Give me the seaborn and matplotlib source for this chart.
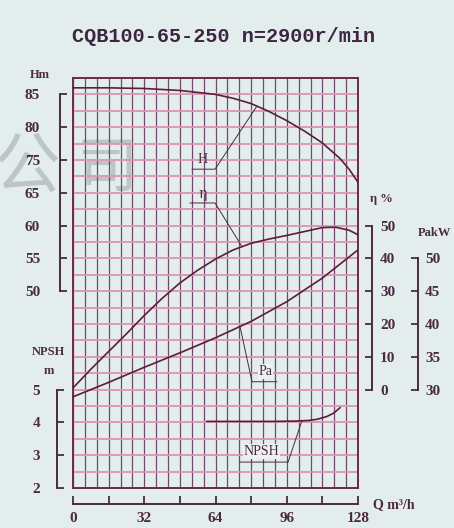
import numpy as np
import pandas as pd
import matplotlib
matplotlib.use("Agg")
import matplotlib.pyplot as plt
import seaborn as sns

# ---------------- data ----------------
title = "CQB100-65-250 n=2900r/min"

Q_H = [0, 16, 32, 48, 64, 72, 80, 88, 96, 104, 112, 120, 124, 128]
H = [86.0, 86.0, 85.9, 85.6, 85.0, 84.4, 83.6, 82.4, 81.0, 79.4, 77.6, 75.2, 73.6, 71.6]

Q_eta = [0, 8, 16, 24, 32, 40, 48, 56, 64, 72, 80, 88, 96, 104, 112, 118, 124, 128]
eta = [0.5, 6.2, 11.6, 17.0, 22.6, 27.8, 32.5, 36.4, 39.8, 42.6, 44.6, 45.9, 47.0, 48.2, 49.4, 49.5, 48.6, 47.2]

Q_Pa = [0, 16, 32, 48, 64, 80, 96, 112, 128]
Pa = [28.9, 31.1, 33.4, 35.6, 37.9, 40.4, 43.4, 47.0, 51.3]

Q_npsh = [60, 70, 80, 90, 100, 106, 110, 114, 117, 120]
npsh = [4.03, 4.03, 4.03, 4.03, 4.04, 4.06, 4.10, 4.18, 4.28, 4.45]

H_ticks = [85, 80, 75, 70, 65, 60, 55]
H_tick_labels = ["85", "80", "75", "65", "60", "55", "50"]
eta_ticks = [0, 10, 20, 30, 40, 50]
Pa_ticks = [30, 35, 40, 45, 50]
npsh_ticks = [2, 3, 4, 5]
Q_ticks = [0, 16, 32, 48, 64, 80, 96, 112, 128]
Q_tick_labels = ["0", "", "32", "", "64", "", "96", "", "128"]

# ---------------- style ----------------
sns.set_style("white")
BG = "#e3edec"
INK = "#4a2a42"
CURVE = "#5c1c3a"
VGRID = "#6e4a68"
HGRID = "#dc94b3"
SERIF = "Liberation Serif"

plt.rcParams["font.family"] = [SERIF, "DejaVu Sans"]

W, Hpx = 454, 528
fig = plt.figure(figsize=(W / 100, Hpx / 100), dpi=100, facecolor=BG)
rect = [73 / W, (Hpx - 488) / Hpx, 285 / W, 410 / Hpx]

# watermark
fig.text(27 / W, 1 - 168 / Hpx, "公", fontsize=48, color="#a3acab", alpha=0.6,
         ha="center", va="center", family=["Noto Sans CJK SC"], zorder=-5)
fig.text(107 / W, 1 - 170 / Hpx, "司", fontsize=44, color="#a3acab", alpha=0.6,
         ha="center", va="center", family=["Noto Sans CJK SC"], zorder=-5)

# grid axes
axg = fig.add_axes(rect, facecolor="none")
axg.set_xlim(0, 128)
axg.set_ylim(0, 25)
axg.set_xticks(np.linspace(0, 128, 25))
axg.set_yticks(np.arange(0, 26))
axg.tick_params(length=0, labelbottom=False, labelleft=False)
axg.grid(False)
axg.xaxis.grid(True, color=VGRID, lw=0.9)
axg.yaxis.grid(True, color=HGRID, lw=1.3)
for s in axg.spines.values():
    s.set_color("#6a2a4a")
    s.set_linewidth(1.4)


def make_axes(ylim):
    a = fig.add_axes(rect, facecolor="none", label=str(ylim))
    a.set_xlim(0, 128)
    a.set_ylim(*ylim)
    for s in a.spines.values():
        s.set_visible(False)
    a.tick_params(bottom=False, left=False, labelbottom=False, labelleft=False)
    a.grid(False)
    return a


tick_font = dict(family=SERIF, weight="bold", size=11)

# H axis (left)
axH = make_axes((25, 87.5))
axH.spines["left"].set_visible(True)
axH.spines["left"].set_position(("outward", 9.7))
axH.spines["left"].set_bounds(55, 85)
axH.spines["left"].set_color(INK)
axH.spines["left"].set_linewidth(1.4)
axH.set_yticks(H_ticks, H_tick_labels)
axH.tick_params(axis="y", left=True, labelleft=True, direction="in", length=5,
                width=1.3, pad=14, color=INK, labelcolor=INK)
for t in axH.get_yticklabels():
    t.set_fontproperties(tick_font)

# bottom axis on axH
axH.spines["bottom"].set_visible(True)
axH.spines["bottom"].set_position(("outward", 11.5))
axH.spines["bottom"].set_bounds(0, 128)
axH.spines["bottom"].set_color(INK)
axH.spines["bottom"].set_linewidth(1.4)
axH.set_xticks(Q_ticks, Q_tick_labels)
axH.tick_params(axis="x", bottom=True, labelbottom=True, direction="in", length=6,
                width=1.3, pad=6, color=INK, labelcolor=INK)
for t in axH.get_xticklabels():
    t.set_fontproperties(tick_font)

# NPSH axis (left, lower)
axN = make_axes((2, 14.5))
axN.spines["left"].set_visible(True)
axN.spines["left"].set_position(("outward", 11.7))
axN.spines["left"].set_bounds(2, 5)
axN.spines["left"].set_color(INK)
axN.spines["left"].set_linewidth(1.4)
axN.set_yticks(npsh_ticks, [str(v) for v in npsh_ticks])
axN.tick_params(axis="y", left=True, labelleft=True, direction="in", length=5,
                width=1.3, pad=12, color=INK, labelcolor=INK)
for t in axN.get_yticklabels():
    t.set_fontproperties(tick_font)

# eta axis (right)
axE = make_axes((-30, 95))
axE.yaxis.set_ticks_position("right")
axE.spines["right"].set_visible(True)
axE.spines["right"].set_position(("outward", 10))
axE.spines["right"].set_bounds(0, 50)
axE.spines["right"].set_color(INK)
axE.spines["right"].set_linewidth(1.4)
axE.set_yticks(eta_ticks, [str(v) for v in eta_ticks])
axE.tick_params(axis="y", right=True, labelright=True, direction="in", length=5,
                width=1.3, pad=6, color=INK, labelcolor=INK)
for t in axE.get_yticklabels():
    t.set_fontproperties(tick_font)

# Pa axis (right, outer)
axP = make_axes((15, 77.5))
axP.yaxis.set_ticks_position("right")
axP.spines["right"].set_visible(True)
axP.spines["right"].set_position(("outward", 43.4))
axP.spines["right"].set_bounds(30, 50)
axP.spines["right"].set_color(INK)
axP.spines["right"].set_linewidth(1.4)
axP.set_yticks(Pa_ticks, [str(v) for v in Pa_ticks])
axP.tick_params(axis="y", right=True, labelright=True, direction="in", length=5,
                width=1.3, pad=5, color=INK, labelcolor=INK)
for t in axP.get_yticklabels():
    t.set_fontproperties(tick_font)

# ---------------- curves ----------------
lw = 1.2
sns.lineplot(data=pd.DataFrame({"Q": Q_H, "v": H}), x="Q", y="v", ax=axH, color=CURVE, lw=lw)
sns.lineplot(data=pd.DataFrame({"Q": Q_eta, "v": eta}), x="Q", y="v", ax=axE, color=CURVE, lw=lw)
sns.lineplot(data=pd.DataFrame({"Q": Q_Pa, "v": Pa}), x="Q", y="v", ax=axP, color=CURVE, lw=lw)
sns.lineplot(data=pd.DataFrame({"Q": Q_npsh, "v": npsh}), x="Q", y="v", ax=axN, color=CURVE, lw=lw)
for a in (axH, axE, axP, axN):
    a.set_xlabel("")
    a.set_ylabel("")
    a.set_xlim(0, 128)

# ---------------- leaders & labels ----------------
lab_font = dict(size=10, color=INK)


def leader(ax, xs, vs, q_curve, x_end, x_start, y_line, text, tx, ty, box=False, family=SERIF):
    yc = np.interp(q_curve, xs, vs)
    ax.plot([q_curve, x_end, x_start], [yc, y_line, y_line], color=INK, lw=0.7)
    kw = dict(ha="center", va="center", family=[family], **lab_font)
    if box:
        kw["bbox"] = dict(facecolor="#edf2f1", edgecolor="none", pad=0.6)
    ax.text(tx, ty, text, **kw)


leader(axH, Q_H, H, 82.6, 63.8, 53.4, 73.6, "H", 58.4, 75.1)
leader(axE, Q_eta, eta, 75.9, 63.8, 52.5, 56.9, "η", 58.2, 59.6, family="DejaVu Serif")
leader(axP, Q_Pa, Pa, 75.0, 80.4, 91.6, 31.2, "Pa", 86.5, 32.8, box=True)
leader(axN, Q_npsh, npsh, 102.8, 96.6, 75.0, 2.79, "NPSH", 84.6, 3.12, box=True)

# ---------------- texts ----------------
fig.text(224 / W, 1 - 37 / Hpx, title, ha="center", va="center", color="#3b2540",
         family=["Liberation Mono"], weight="bold", fontsize=14.5)
small = dict(family=SERIF, weight="bold", size=9, color=INK, ha="center", va="center")
fig.text(40 / W, 1 - 75 / Hpx, "Hm", **small)
fig.text(48 / W, 1 - 352 / Hpx, "NPSH", **small)
fig.text(49 / W, 1 - 371 / Hpx, "m", **small)
fig.text(381 / W, 1 - 199 / Hpx, "η %", **small)
fig.text(434 / W, 1 - 233 / Hpx, "PakW", **small)
fig.text(373 / W, 1 - 505 / Hpx, "Q m³/h", family=SERIF, weight="bold", size=10,
         color=INK, ha="left", va="center")

fig.savefig("out.png", dpi=100, facecolor=BG)
